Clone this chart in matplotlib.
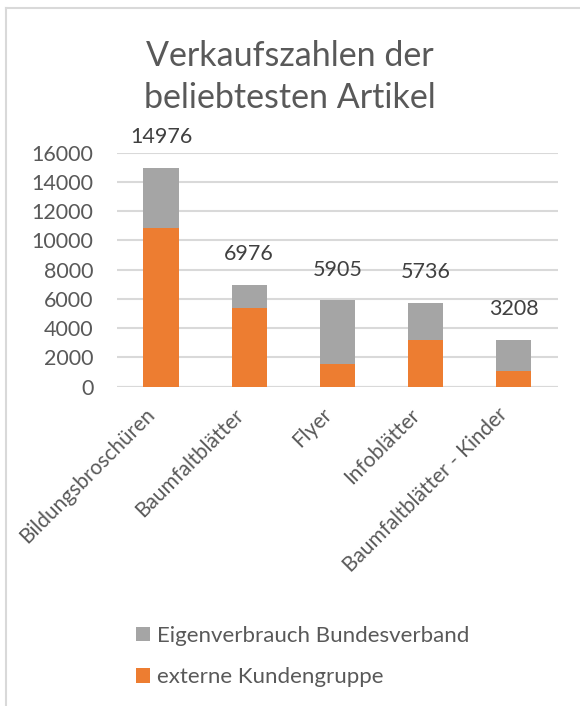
import matplotlib
matplotlib.use("Agg")
import matplotlib.pyplot as plt
from matplotlib.patches import Patch
from matplotlib.lines import Line2D
from matplotlib.transforms import ScaledTranslation
import numpy as np

# Data
categories = ["Bildungsbroschüren", "Baumfaltblätter", "Flyer", "Infoblätter",
              "Baumfaltblätter - Kinder"]
totals = [14976, 6976, 5905, 5736, 3208]
externe = [10870, 5400, 1530, 3170, 1050]
eigen = [t - e for t, e in zip(totals, externe)]
series_names = ["externe Kundengruppe", "Eigenverbrauch Bundesverband"]
y_ticks = [0, 2000, 4000, 6000, 8000, 10000, 12000, 14000, 16000]

ORANGE = "#ED7D31"
GRAY = "#A5A5A5"
TEXT = "#595959"
GRID = "#D9D9D9"

plt.rcParams["font.family"] = ["Lato", "DejaVu Sans"]

fig = plt.figure(figsize=(5.8, 7.06), dpi=100)
ax = fig.add_axes([117 / 580, 319.3 / 706, 440.7 / 580, 234 / 706])

x = np.arange(len(categories))
ax.bar(x, externe, width=0.4, color=ORANGE, zorder=3)
ax.bar(x, eigen, width=0.4, bottom=externe, color=GRAY, zorder=3)

for xi, t in zip(x, totals):
    ax.annotate(str(t), (xi, t), xytext=(0, 22), textcoords="offset points",
                ha="center", va="center", fontsize=15.5, color="#404040",
                annotation_clip=False)

ax.set_xlim(-0.5, len(categories) - 0.5)
ax.set_ylim(0, 16000)
ax.set_yticks(y_ticks)
ax.set_yticklabels([str(v) for v in y_ticks])
ax.yaxis.grid(True, color=GRID, linewidth=1.5, zorder=0)
ax.set_axisbelow(True)
for s in ax.spines.values():
    s.set_visible(False)
ax.axhline(0, color=GRID, linewidth=1.5, zorder=1)
ax.tick_params(axis="y", length=0, labelsize=15.5, colors=TEXT, pad=17)
ax.set_xticks(x)
ax.set_xticklabels(categories, rotation=45, ha="right", va="center",
                   rotation_mode="anchor", fontsize=15, color=TEXT)
ax.tick_params(axis="x", length=0, pad=18)
shift = ScaledTranslation(-9 / 100, 0, fig.dpi_scale_trans)
for lbl in ax.get_xticklabels():
    lbl.set_transform(lbl.get_transform() + shift)

fig.text(0.5, 1 - 77 / 706, "Verkaufszahlen der\nbeliebtesten Artikel",
         ha="center", va="center", fontsize=24.5, color=TEXT, linespacing=1.38)

handles = [Patch(facecolor=GRAY, edgecolor="none"),
           Patch(facecolor=ORANGE, edgecolor="none")]
fig.legend(handles, [series_names[1], series_names[0]], loc="upper left",
           bbox_to_anchor=(116 / 580, 1 - 606 / 706), frameon=False,
           fontsize=16, labelcolor=TEXT, handlelength=0.63, handleheight=0.63,
           handletextpad=0.3, labelspacing=0.95)

# chart frame
fig.add_artist(Line2D([6 / 580, 6 / 580], [0, 1 - 8 / 706], color=GRID,
                      linewidth=1.5, transform=fig.transFigure))
fig.add_artist(Line2D([6 / 580, 1], [1 - 8 / 706, 1 - 8 / 706], color=GRID,
                      linewidth=1.5, transform=fig.transFigure))

fig.savefig("out.png", dpi=100)
